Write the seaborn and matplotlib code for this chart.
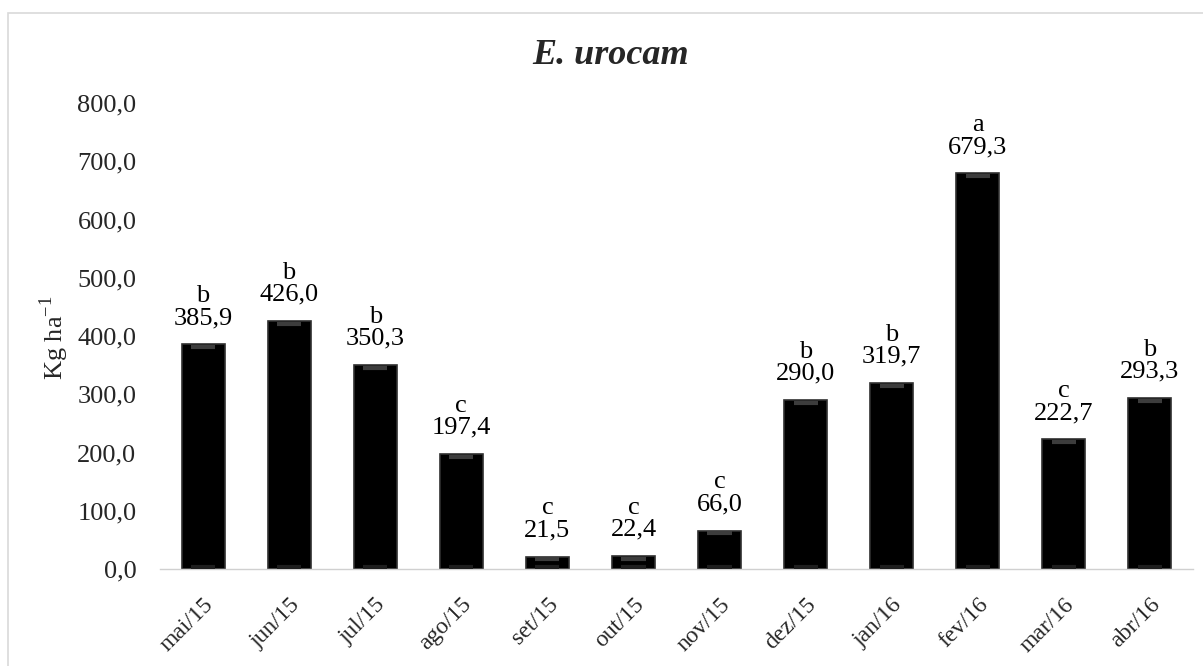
import matplotlib
matplotlib.use("Agg")
import matplotlib.pyplot as plt
import seaborn as sns
import pandas as pd
from matplotlib.patches import Rectangle

months = ["mai/15", "jun/15", "jul/15", "ago/15", "set/15", "out/15",
          "nov/15", "dez/15", "jan/16", "fev/16", "mar/16", "abr/16"]
values = [385.9, 426.0, 350.3, 197.4, 21.5, 22.4, 66.0, 290.0, 319.7, 679.3, 222.7, 293.3]
letters = ["b", "b", "b", "c", "c", "c", "c", "b", "b", "a", "c", "b"]
yticks = [0, 100, 200, 300, 400, 500, 600, 700, 800]

df = pd.DataFrame({"mes": months, "kg": values})

sns.set_theme(style="white")
plt.rcParams["font.family"] = ["Liberation Serif", "DejaVu Serif"]
FS = 19

fig = plt.figure(figsize=(12.03, 6.66), dpi=100)
ax = fig.add_axes([0.133, 0.1456, 0.8587, 0.6997])

sns.barplot(data=df, x="mes", y="kg", color="black", width=0.5,
            edgecolor="#303030", linewidth=1.2, ax=ax, saturation=1)

# soft bevel highlights near the top and bottom of each bar
for p in ax.patches:
    x0, w, h = p.get_x(), p.get_width(), p.get_height()
    if h > 20:
        ax.plot([x0 + w * 0.22, x0 + w * 0.78], [h - 5, h - 5], color="#3c3c3c",
                lw=3, solid_capstyle="butt", zorder=3)
        ax.plot([x0 + w * 0.22, x0 + w * 0.78], [4, 4], color="#1e1e1e",
                lw=3, solid_capstyle="butt", zorder=3)

# significance letter and value above each bar
for i, (v, l) in enumerate(zip(values, letters)):
    ax.annotate(f"{l}\n{v:.1f}".replace(".", ","), xy=(i, v), xytext=(0, 11),
                textcoords="offset points", ha="center", va="bottom",
                fontsize=FS, linespacing=1.0, color="black")

ax.set_ylim(0, 800)
ax.set_xlim(-0.5, len(months) - 0.5)
ax.set_yticks(yticks)
ax.set_yticklabels([f"{t:.1f}".replace(".", ",") for t in yticks], fontsize=FS)
ax.set_xticks(range(len(months)))
ax.set_xticklabels(months, rotation=45, ha="right", va="top",
                   rotation_mode="anchor", fontsize=17)
ax.set_xticks([i - 0.5 for i in range(len(months) + 1)], minor=True)
ax.tick_params(axis="x", which="major", length=0, pad=18)
ax.tick_params(axis="x", which="minor", length=8, color="#d0d0d0", width=1, direction="out")
ax.tick_params(axis="y", length=0, pad=17)

for s in ["top", "right", "left"]:
    ax.spines[s].set_visible(False)
ax.spines["bottom"].set_color("#d0d0d0")
ax.spines["bottom"].set_linewidth(1)

ax.set_xlabel("")
ax.set_ylabel("")
fig.text(54 / 1203, 1 - 338 / 666, r"Kg ha$^{\mathregular{-1}}$", rotation=90,
         ha="center", va="center", fontsize=FS)
fig.text(611 / 1203, 1 - 55 / 666, "E. urocam", ha="center", va="center",
         fontsize=26, fontweight="bold", fontstyle="italic")

fig.patches.append(Rectangle((8 / 1203, -0.1), 1.2, 1 - 13 / 666 + 0.1,
                             transform=fig.transFigure, fill=False,
                             edgecolor="#d9d9d9", lw=1.2))

fig.savefig("out.png", dpi=100, facecolor="white")
